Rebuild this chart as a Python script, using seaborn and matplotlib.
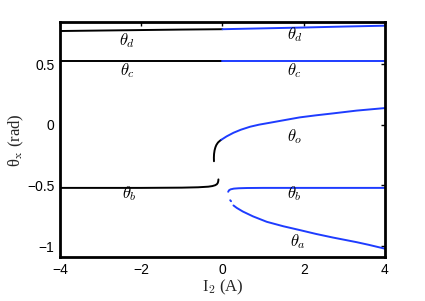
import matplotlib
matplotlib.use("Agg")
import matplotlib.pyplot as plt
import seaborn as sns
import pandas as pd

sns.set_theme(style="white")
plt.rcParams['font.family'] = ['Liberation Sans', 'DejaVu Sans']
plt.rcParams['mathtext.fontset'] = 'cm'

# Data
# black (I2 < 0) branches
d_blk_x = [-4, -3, -2, -1, 0]
d_blk_y = [0.775, 0.779, 0.783, 0.787, 0.79]
c_blk_x = [-4, 0]
c_blk_y = [0.527, 0.527]
b_blk_x = [-4, -2, -1, -0.6, -0.35, -0.25, -0.18, -0.14, -0.115, -0.105, -0.1]
b_blk_y = [-0.52, -0.52, -0.518, -0.515, -0.51, -0.505, -0.498, -0.49, -0.478, -0.465, -0.45]
o_blk_x = [-0.21, -0.212, -0.208, -0.195, -0.175, -0.15, -0.11, -0.06, -0.03]
o_blk_y = [-0.30, -0.27, -0.24, -0.21, -0.185, -0.165, -0.145, -0.13, -0.123]
# blue (I2 > 0) branches
d_blu_x = [0, 1, 2, 3, 4]
d_blu_y = [0.79, 0.797, 0.804, 0.812, 0.819]
c_blu_x = [0, 4]
c_blu_y = [0.527, 0.527]
o_blu_x = [-0.03, 0.1, 0.27, 0.45, 0.68, 0.9, 1.17, 1.5, 1.9, 2.3, 2.72, 3.3, 4.0]
o_blu_y = [-0.123, -0.095, -0.065, -0.04, -0.015, 0.002, 0.018, 0.038, 0.062, 0.079, 0.095, 0.118, 0.139]
b_blu_x = [0.14, 0.16, 0.2, 0.28, 0.4, 0.6, 1.0, 2.0, 4.0]
b_blu_y = [-0.552, -0.54, -0.532, -0.526, -0.523, -0.521, -0.52, -0.52, -0.52]
a_dot_x = [0.19, 0.21]
a_dot_y = [-0.622, -0.63]
a_blu_x = [0.27, 0.35, 0.5, 0.75, 1.09, 1.5, 1.9, 2.3, 2.72, 3.3, 3.6, 4.0]
a_blu_y = [-0.665, -0.685, -0.715, -0.755, -0.80, -0.837, -0.868, -0.90, -0.93, -0.968, -0.99, -1.022]

labels = [r'$\theta_d$', r'$\theta_d$', r'$\theta_c$', r'$\theta_c$', r'$\theta_o$',
          r'$\theta_b$', r'$\theta_b$', r'$\theta_a$']
label_x = [-2.35, 1.78, -2.35, 1.78, 1.78, -2.3, 1.78, 1.85]
label_y = [0.70, 0.742, 0.445, 0.445, -0.10, -0.571, -0.571, -0.967]

xticks = [-4, -2, 0, 2, 4]
yticks = [-1, -0.5, 0, 0.5]
ytick_labels = ['\u22121', '\u22120.5', '0', '0.5']
xtick_labels = ['\u22124', '\u22122', '0', '2', '4']

BLUE = '#1e3cff'

fig = plt.figure(figsize=(4.25, 3.01), dpi=100)
ax = fig.add_axes([60/425, 1-257.3/301, 325/425, (257.3-22.3)/301])

def draw(xs, ys, color, lw=1.4):
    df = pd.DataFrame({'x': xs, 'y': ys})
    sns.lineplot(data=df, x='x', y='y', ax=ax, color=color, lw=lw, sort=False,
                 estimator=None)

draw(d_blk_x, d_blk_y, 'black')
draw(c_blk_x, c_blk_y, 'black')
draw(b_blk_x, b_blk_y, 'black')
draw(o_blk_x, o_blk_y, 'black')
draw(d_blu_x, d_blu_y, BLUE)
draw(c_blu_x, c_blu_y, BLUE)
draw(o_blu_x, o_blu_y, BLUE)
draw(b_blu_x, b_blu_y, BLUE)
draw(a_dot_x, a_dot_y, BLUE)
draw(a_blu_x, a_blu_y, BLUE)

for t, x, y in zip(labels, label_x, label_y):
    ax.text(x, y, t, fontsize=12, ha='center', va='center', color='black')

ax.set_xlim(-4, 4)
ax.set_ylim(-1.093, 0.847)
ax.set_xticks(xticks)
ax.set_xticklabels(xtick_labels)
ax.set_yticks(yticks)
ax.set_yticklabels(ytick_labels)
ax.tick_params(direction='in', length=3, width=1, top=True, right=True,
               labelsize=10, colors='black', pad=4)
for s in ax.spines.values():
    s.set_linewidth(2)
    s.set_color('black')
    s.set_visible(True)
ax.set_xlabel('I$_2$ (A)', fontsize=12, family=['Liberation Serif', 'DejaVu Serif'], labelpad=1)
ax.set_ylabel('\u03b8$_{\\rm x}$ (rad)', fontsize=12, family=['Liberation Serif', 'DejaVu Serif'], labelpad=1)
ax.grid(False)
fig.savefig('out.png', dpi=100)
